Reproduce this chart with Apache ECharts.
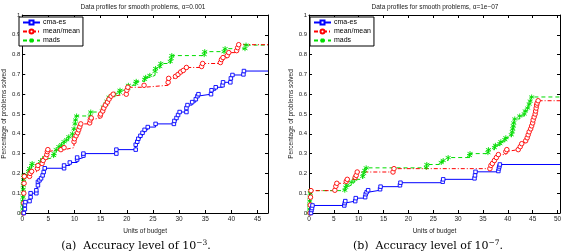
<!DOCTYPE html>
<html>
<head>
<meta charset="utf-8">
<script src="https://cdn.jsdelivr.net/npm/echarts@6/dist/echarts.min.js"></script>
<style>
  html, body { margin: 0; padding: 0; background: #fff; }
  #main { width: 565px; height: 252px; }
</style>
</head>
<body>
<div id="main"></div>
<script>
// x range of each panel (units of budget)
var xMaxA = 47;
var xMaxB = 50.5;
var yTicks = [0, 0.1, 0.2, 0.3, 0.4, 0.5, 0.6, 0.7, 0.8, 0.9, 1];
var names = ['cma-es', 'mean/mean', 'mads'];

// (a) accuracy 1e-3 : [units of budget, fraction solved]
var cmaA = [[0.3,0],[0.5,0.02],[0.5,0.04],[0.6,0.055],[1.4,0.06],[1.6,0.08],[1.6,0.1],[2.7,0.1],[2.7,0.115],[3,0.14],[3,0.157],[3.3,0.165],[3.6,0.175],[3.9,0.19],[4.1,0.207],[4.3,0.226],[8,0.226],[8,0.24],[9.1,0.255],[10.5,0.27],[10.5,0.28],[11.7,0.29],[11.7,0.3],[18,0.3],[18,0.32],[21.7,0.32],[21.7,0.345],[22,0.36],[22.2,0.375],[22.6,0.39],[23,0.405],[23.4,0.42],[24,0.434],[25.5,0.45],[29,0.45],[29.1,0.465],[29.5,0.48],[29.8,0.495],[30.1,0.51],[31.4,0.51],[31.4,0.53],[31.6,0.545],[32.5,0.56],[33.2,0.575],[33.5,0.59],[33.7,0.6],[36.1,0.6],[36.2,0.62],[37,0.635],[38.3,0.645],[38.4,0.66],[39.8,0.66],[39.9,0.68],[40.2,0.697],[42.3,0.7],[42.4,0.717]];
var meanA = [[0.2,0],[0.3,0.05],[0.3,0.1],[0.35,0.15],[0.4,0.185],[1.4,0.185],[1.5,0.2],[1.8,0.21],[2.9,0.225],[3,0.24],[3.8,0.25],[4,0.265],[4.5,0.28],[4.7,0.295],[4.8,0.31],[4.9,0.32],[7.4,0.32],[8,0.33],[9.9,0.36],[10,0.375],[10.3,0.39],[10.6,0.405],[10.8,0.42],[11,0.435],[11.2,0.45],[12.9,0.455],[13,0.47],[13.2,0.48],[14.9,0.49],[15,0.5],[15.4,0.515],[15.6,0.53],[15.9,0.545],[16.3,0.56],[16.6,0.575],[17,0.59],[17.4,0.6],[19.9,0.6],[20,0.62],[20.2,0.635],[23.3,0.645],[27.9,0.66],[28,0.68],[29.3,0.69],[29.8,0.7],[30.3,0.712],[30.8,0.72],[31.4,0.735],[34.3,0.74],[34.5,0.755],[37.9,0.76],[38.1,0.775],[38.4,0.785],[39.2,0.795],[39.5,0.81],[41,0.82],[41.2,0.835],[41.4,0.85]];
var madsA = [[0,0],[0.1,0.02],[0.1,0.04],[0.1,0.06],[0.15,0.08],[0.15,0.1],[0.2,0.12],[0.2,0.14],[0.25,0.16],[0.3,0.18],[0.3,0.19],[1.1,0.19],[1.2,0.21],[1.4,0.225],[1.8,0.24],[1.9,0.25],[3.5,0.26],[3.9,0.27],[4.3,0.28],[6,0.29],[6.1,0.3],[6.5,0.32],[7,0.335],[7.5,0.345],[8,0.36],[8.5,0.37],[8.9,0.385],[9.6,0.4],[9.9,0.425],[10.1,0.45],[10.2,0.47],[10.4,0.49],[13,0.49],[13.1,0.51],[15.3,0.515],[15.5,0.535],[16,0.55],[16.2,0.565],[16.6,0.585],[17.7,0.6],[18.6,0.61],[18.7,0.62],[20.2,0.63],[20.3,0.645],[21.7,0.655],[21.8,0.665],[23.4,0.675],[23.6,0.685],[24.4,0.695],[25.4,0.715],[25.5,0.73],[26.3,0.74],[26.5,0.755],[28.3,0.765],[28.5,0.78],[28.6,0.795],[34.8,0.8],[34.9,0.815],[38.6,0.815],[38.8,0.83],[42.6,0.83],[42.8,0.848]];

// (b) accuracy 1e-7
var cmaB = [[0.4,0],[0.5,0.015],[0.6,0.025],[0.7,0.038],[7.1,0.038],[7.2,0.05],[7.3,0.06],[9.3,0.06],[9.4,0.075],[11.3,0.08],[11.4,0.095],[11.6,0.105],[11.9,0.115],[14.3,0.12],[14.4,0.133],[18.3,0.14],[18.4,0.153],[26.9,0.158],[27,0.17],[33.3,0.175],[33.4,0.19],[33.5,0.208],[38.1,0.212],[38.2,0.225],[38.3,0.235],[38.4,0.245]];
var meanB = [[0.2,0],[0.25,0.04],[0.3,0.08],[0.4,0.113],[5.2,0.115],[5.4,0.135],[5.6,0.15],[7.5,0.16],[7.7,0.17],[9.3,0.18],[9.5,0.19],[9.7,0.207],[16.9,0.207],[17.1,0.224],[36.4,0.224],[36.6,0.24],[36.9,0.25],[37.3,0.265],[37.7,0.28],[38.1,0.295],[39.6,0.31],[39.8,0.32],[42.1,0.32],[42.5,0.335],[42.8,0.35],[43.6,0.365],[43.9,0.38],[44.1,0.395],[44.3,0.41],[44.6,0.425],[44.8,0.44],[45,0.455],[45.1,0.47],[45.3,0.485],[45.5,0.5],[45.6,0.515],[45.7,0.53],[45.8,0.545],[45.9,0.555],[46.1,0.567]];
var madsB = [[0,0],[0.1,0.02],[0.1,0.04],[0.15,0.06],[0.2,0.08],[0.25,0.1],[0.3,0.113],[7.2,0.115],[7.4,0.13],[7.6,0.14],[8.5,0.155],[9.2,0.17],[10.8,0.185],[11,0.2],[11.2,0.215],[11.5,0.228],[23.6,0.23],[23.7,0.245],[26.6,0.255],[27,0.265],[28,0.28],[32.3,0.29],[32.4,0.3],[36,0.305],[36.1,0.32],[37.3,0.33],[37.5,0.342],[38.4,0.35],[38.6,0.36],[39.4,0.37],[39.6,0.38],[40.7,0.395],[40.9,0.41],[41,0.425],[41.1,0.44],[41.2,0.455],[41.4,0.475],[42.4,0.49],[43.3,0.5],[43.5,0.515],[44,0.53],[44.3,0.55],[44.5,0.565],[44.8,0.586]];

var FONT = 'Liberation Sans, Arial, sans-serif';
var SERIF = 'DejaVu Serif, serif';
var starPath = 'path://M0,-5L0,5M-4.5,-2.5L4.5,2.5M-4.5,2.5L4.5,-2.5';

// extend the last value flat to the right edge, without a marker
function toEdge(pts, xmax) {
  var d = pts.slice();
  d.push({ value: [xmax, pts[pts.length - 1][1]], symbol: 'none' });
  return d;
}

var styles = [
  { color: '#0000ff', symbol: 'rect', size: 3.5, type: 'solid', fill: '#fff' },
  { color: '#ff0000', symbol: 'circle', size: 4.5, type: [4, 2, 1, 2], fill: '#fff' },
  { color: '#00dd00', symbol: starPath, size: 5, type: [4, 3], fill: 'transparent' }
];

function mkSeries(name, pts, xmax, idx) {
  var s = styles[names.indexOf(name)];
  return {
    name: name,
    type: 'line',
    step: 'end',
    xAxisIndex: idx,
    yAxisIndex: idx,
    data: toEdge(pts, xmax),
    symbol: s.symbol,
    symbolSize: s.size,
    showAllSymbol: true,
    animation: false,
    lineStyle: { color: s.color, width: 1, type: s.type },
    itemStyle: { color: s.fill, borderColor: s.color, borderWidth: 0.9 }
  };
}

function xAxes(grid, xmax) {
  return [{
    gridIndex: grid, type: 'value', min: 0, max: xmax, interval: 5,
    name: 'Units of budget', nameLocation: 'middle', nameGap: 12,
    nameTextStyle: { fontFamily: FONT, fontSize: 6.5, color: '#222' },
    axisLine: { onZero: false, lineStyle: { color: '#000', width: 1 } },
    axisTick: { inside: true, length: 3, lineStyle: { color: '#000' } },
    axisLabel: {
      fontFamily: FONT, fontSize: 6.5, color: '#222', margin: 3,
      formatter: function (v) { return v % 5 === 0 ? String(v) : ''; }
    },
    splitLine: { show: false }
  }, {
    gridIndex: grid, type: 'value', position: 'top', min: 0, max: xmax, interval: 5,
    axisLine: { onZero: false, lineStyle: { color: '#000', width: 1 } },
    axisTick: { inside: true, length: 3, lineStyle: { color: '#000' } },
    axisLabel: { show: false },
    splitLine: { show: false }
  }];
}

function yAxes(grid) {
  return [{
    gridIndex: grid, type: 'value', min: yTicks[0], max: yTicks[yTicks.length - 1], interval: 0.1,
    name: 'Percentage of problems solved', nameLocation: 'middle', nameGap: 12, nameRotate: 90,
    nameTextStyle: { fontFamily: FONT, fontSize: 6.5, color: '#222' },
    axisLine: { onZero: false, lineStyle: { color: '#000', width: 1 } },
    axisTick: { inside: true, length: 3, lineStyle: { color: '#000' } },
    axisLabel: { fontFamily: FONT, fontSize: 6, color: '#222', margin: 2 },
    splitLine: { show: false }
  }, {
    gridIndex: grid, type: 'value', position: 'right', min: 0, max: 1, interval: 0.1,
    axisLine: { onZero: false, lineStyle: { color: '#000', width: 1 } },
    axisTick: { inside: true, length: 3, lineStyle: { color: '#000' } },
    axisLabel: { show: false },
    splitLine: { show: false }
  }];
}

function legend(left) {
  return {
    data: names, orient: 'vertical', left: left, top: 17,
    backgroundColor: '#fff', borderColor: '#000', borderWidth: 1, borderRadius: 0,
    padding: [2, 3, 2, 3], itemGap: 2, itemWidth: 17, itemHeight: 5,
    textStyle: { fontFamily: FONT, fontSize: 7, color: '#000', padding: [0, 0, 0, -2] },
    selectedMode: false
  };
}

function caption(x, letter, exp) {
  return {
    type: 'text', x: x, y: 246,
    style: {
      text: '{n|(' + letter + ')  Accuracy level of 10}{s|' + exp + '}{n|.}',
      align: 'center', verticalAlign: 'middle',
      rich: {
        n: { fontFamily: SERIF, fontSize: 11, color: '#000', lineHeight: 14 },
        s: { fontFamily: SERIF, fontSize: 7.5, color: '#000', lineHeight: 14, verticalAlign: 'top' }
      }
    }
  };
}

var chart = echarts.init(document.getElementById('main'), null, { renderer: 'canvas' });
var xa = xAxes(0, xMaxA), xb = xAxes(1, xMaxB);
var ya = yAxes(0), yb = yAxes(1);
chart.setOption({
  animation: false,
  grid: [
    { left: 17, top: 15, width: 251, height: 198 },
    { left: 309, top: 15, width: 251, height: 198 }
  ],
  xAxis: [xa[0], xa[1], xb[0], xb[1]],
  yAxis: [ya[0], ya[1], yb[0], yb[1]],
  legend: [legend(19), legend(310)],
  graphic: [
    { type: 'text', x: 143, y: 7, style: { text: 'Data profiles for smooth problems, \u03b1=0.001', align: 'center', verticalAlign: 'middle', fontFamily: FONT, fontSize: 6.5, fill: '#222' } },
    { type: 'text', x: 435, y: 7, style: { text: 'Data profiles for smooth problems, \u03b1=1e\u221207', align: 'center', verticalAlign: 'middle', fontFamily: FONT, fontSize: 6.5, fill: '#222' } },
    caption(136, 'a', '\u22123'),
    caption(428, 'b', '\u22127')
  ],
  series: [
    mkSeries('mads', madsA, xMaxA, 0),
    mkSeries('mean/mean', meanA, xMaxA, 0),
    mkSeries('cma-es', cmaA, xMaxA, 0),
    mkSeries('mads', madsB, xMaxB, 2),
    mkSeries('mean/mean', meanB, xMaxB, 2),
    mkSeries('cma-es', cmaB, xMaxB, 2)
  ]
});
</script>
</body>
</html>
